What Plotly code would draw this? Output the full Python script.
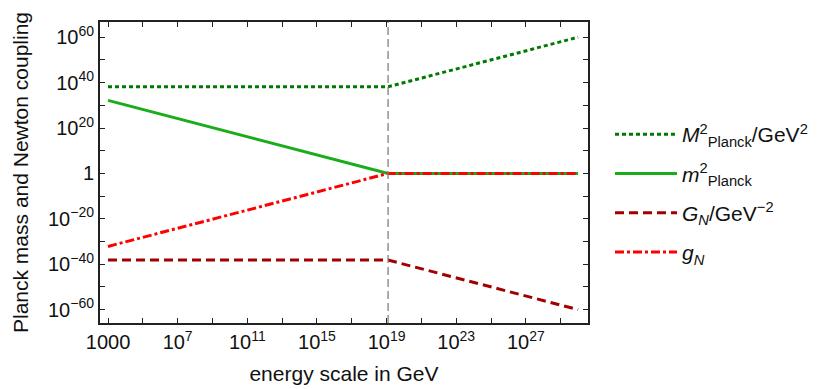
import plotly.graph_objects as go

# ---- data ----
energy = [1e3, 1.22e19, 1e30]                 # GeV
M2_planck = [1.49e38, 1.49e38, 1e60]          # M^2_Planck / GeV^2
m2_planck = [1.49e32, 1.0, 1.0]               # m^2_Planck
G_N = [6.7e-39, 6.7e-39, 1e-60]               # G_N / GeV^-2
g_N = [6.7e-33, 1.0, 1.0]                     # g_N
planck_energy = 1.22e19

x_tickvals = [1e3, 1e7, 1e11, 1e15, 1e19, 1e23, 1e27]
x_ticktext = ["1000", "10<sup>7</sup>", "10<sup>11</sup>", "10<sup>15</sup>",
              "10<sup>19</sup>", "10<sup>23</sup>", "10<sup>27</sup>"]
x_minor_vals = [1e5, 1e9, 1e13, 1e17, 1e21, 1e25, 1e29]
y_tickvals = [1e60, 1e40, 1e20, 1, 1e-20, 1e-40, 1e-60]
y_ticktext = ["10<sup>60</sup>", "10<sup>40</sup>", "10<sup>20</sup>", "1",
              "10<sup>−20</sup>", "10<sup>−40</sup>", "10<sup>−60</sup>"]
y_minor_vals = [1e50, 1e30, 1e10, 1e-10, 1e-30, 1e-50]

FONT = "Arial, Liberation Sans, sans-serif"

fig = go.Figure()
fig.add_trace(go.Scatter(x=energy, y=M2_planck, mode="lines",
                         name="<i>M</i><sup>2</sup><sub>Planck</sub>/GeV<sup>2</sup>",
                         line=dict(color="#007a00", width=3, dash="4px,3px"), legendgroup="a"))
fig.add_trace(go.Scatter(x=energy, y=m2_planck, mode="lines",
                         name="<i>m</i><sup>2</sup><sub>Planck</sub>",
                         line=dict(color="#1aad1a", width=3), legendgroup="b"))
fig.add_trace(go.Scatter(x=energy, y=G_N, mode="lines",
                         name="<i>G<sub>N</sub></i>/GeV<sup>−2</sup>",
                         line=dict(color="#a00000", width=3, dash="9px,5px"), legendgroup="c"))
fig.add_trace(go.Scatter(x=energy, y=g_N, mode="lines",
                         name="<i>g<sub>N</sub></i>",
                         line=dict(color="#ff0000", width=3, dash="9px,3px,3px,3px"), legendgroup="d"))

fig.add_shape(type="line", xref="x", yref="paper", x0=planck_energy, x1=planck_energy, y0=0, y1=1,
              line=dict(color="#808080", width=1.3, dash="8px,4px"))

axis_common = dict(showgrid=False, zeroline=False, showline=True, linecolor="#222", linewidth=2,
                   mirror="ticks", ticks="inside", ticklen=5, tickwidth=1.2, tickcolor="#222",
                   automargin=False, tickfont=dict(size=20, color="#111", family=FONT))

fig.update_xaxes(type="log", range=[2.54, 30.57], tickvals=x_tickvals, ticktext=x_ticktext,
                 minor=dict(tickvals=x_minor_vals, ticks="inside", ticklen=5, tickwidth=1.2, tickcolor="#222"),
                 title=dict(text="energy scale in GeV", font=dict(size=21, color="#111", family=FONT), standoff=14),
                 **axis_common)
fig.update_yaxes(type="log", range=[-65.9, 66.7], tickvals=y_tickvals, ticktext=y_ticktext,
                 minor=dict(tickvals=y_minor_vals, ticks="inside", ticklen=5, tickwidth=1.2, tickcolor="#222"),
                 title=dict(text="Planck mass and Newton coupling", font=dict(size=21, color="#111", family=FONT), standoff=14),
                 **axis_common)

fig.update_layout(
    width=830, height=389,
    margin=dict(l=92, r=250, t=14, b=74, autoexpand=False),
    plot_bgcolor="white", paper_bgcolor="white",
    font=dict(family=FONT, color="#111"),
    legend=dict(xref="container", yref="container", x=602 / 830, y=1 - 106 / 389,
                xanchor="left", yanchor="top", font=dict(size=21, family=FONT, color="#111"),
                tracegroupgap=9, itemwidth=62, bgcolor="rgba(0,0,0,0)"),
    showlegend=True,
)

fig.write_html("out.html")
